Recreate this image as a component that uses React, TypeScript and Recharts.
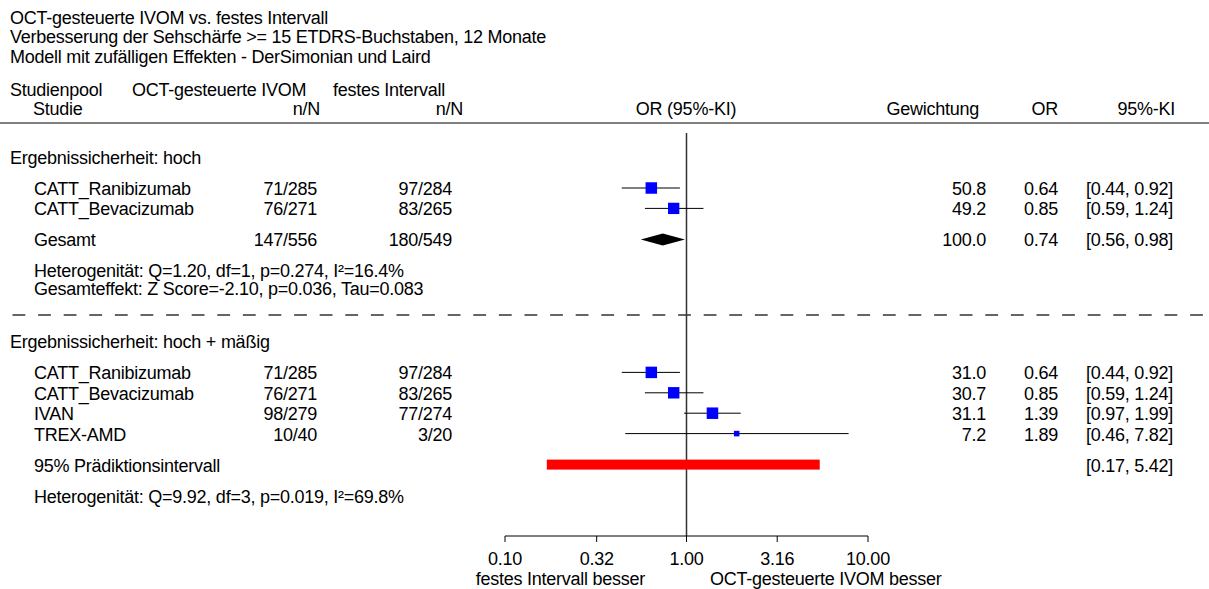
import React from 'react';
import { ComposedChart, Scatter, XAxis, YAxis, ReferenceLine } from 'recharts';

const W = 1209;
const H = 589;
const FONT = '"Liberation Sans", Arial, sans-serif';
const LS = -0.25;

const titleLines = [
  'OCT-gesteuerte IVOM vs. festes Intervall',
  'Verbesserung der Sehschärfe >= 15 ETDRS-Buchstaben, 12 Monate',
  'Modell mit zufälligen Effekten - DerSimonian und Laird',
];
const tickLabels = ['0.10', '0.32', '1.00', '3.16', '10.00'];
const tickValues = tickLabels.map(Number);
const sideLabels = ['festes Intervall besser', 'OCT-gesteuerte IVOM besser'];

// Gruppe 1
const g1Label = 'Ergebnissicherheit: hoch';
const g1Studies = ['CATT_Ranibizumab', 'CATT_Bevacizumab'];
const g1Treat = ['71/285', '76/271'];
const g1Ctrl = ['97/284', '83/265'];
const g1Weight = [50.8, 49.2];
const g1Or = [0.64, 0.85];
const g1Lo = [0.44, 0.59];
const g1Hi = [0.92, 1.24];
const g1Total = ['Gesamt', '147/556', '180/549'];
const g1TotalStats = [100.0, 0.74, 0.56, 0.98];
const g1Notes = [
  'Heterogenität: Q=1.20, df=1, p=0.274, I²=16.4%',
  'Gesamteffekt: Z Score=-2.10, p=0.036, Tau=0.083',
];

// Gruppe 2
const g2Label = 'Ergebnissicherheit: hoch + mäßig';
const g2Studies = ['CATT_Ranibizumab', 'CATT_Bevacizumab', 'IVAN', 'TREX-AMD'];
const g2Treat = ['71/285', '76/271', '98/279', '10/40'];
const g2Ctrl = ['97/284', '83/265', '77/274', '3/20'];
const g2Weight = [31.0, 30.7, 31.1, 7.2];
const g2Or = [0.64, 0.85, 1.39, 1.89];
const g2Lo = [0.44, 0.59, 0.97, 0.46];
const g2Hi = [0.92, 1.24, 1.99, 7.82];
const g2PredLabel = '95% Prädiktionsintervall';
const g2Pred = [0.17, 5.42];
const g2Notes = ['Heterogenität: Q=9.92, df=3, p=0.019, I²=69.8%'];

// Zeilenlayout (Pixel)
const PLOT_LEFT = 505;
const PLOT_RIGHT = 868;
const PLOT_TOP = 133;
const PLOT_BOTTOM = 536;
const Y0 = 157;
const ROW = 20.4;
const GAP = 31;
const NOTE = 18;
const SEP = 26.5;

function buildLayout() {
  let y = Y0;
  const g1Head = y;
  y += GAP;
  const g1Rows = g1Studies.map((_, i) => y + i * ROW);
  y += (g1Studies.length - 1) * ROW + GAP;
  const g1TotalY = y;
  y += GAP;
  const g1NoteY = g1Notes.map((_, i) => y + i * NOTE);
  y += (g1Notes.length - 1) * NOTE + SEP;
  const dashY = y;
  y += SEP;
  const g2Head = y;
  y += GAP;
  const g2Rows = g2Studies.map((_, i) => y + i * ROW);
  y += (g2Studies.length - 1) * ROW + GAP;
  const predY = y;
  y += GAP;
  const g2NoteY = g2Notes.map((_, i) => y + i * NOTE);
  return { g1Head, g1Rows, g1TotalY, g1NoteY, dashY, g2Head, g2Rows, predY, g2NoteY };
}

const L = buildLayout();

const f1 = (v: number) => v.toFixed(1);
const f2 = (v: number) => v.toFixed(2);
const ci = (lo: number, hi: number) => `[${f2(lo)}, ${f2(hi)}]`;

const COL = { grp: 10, study: 34, treat: 317, ctrl: 452, weight: 986, or: 1058, ci: 1173 };

function T({ x, y, anchor = 'start', children }: any) {
  return (
    <text
      x={x}
      y={y}
      textAnchor={anchor}
      fontSize={18}
      fill="#000"
      fontFamily={FONT}
      letterSpacing={LS}
    >
      {children}
    </text>
  );
}

const BASE = 7;

const squareData = (or: number[], rows: number[], weight: number[]) => {
  const max = Math.max(...weight);
  return or.map((v, i) => ({ x: v, y: rows[i], side: 11.5 * Math.sqrt(weight[i] / max) }));
};

const Square = (p: any) => {
  const s = p.payload.side;
  return <rect x={p.cx - s / 2} y={p.cy - s / 2} width={s} height={s} fill="#0000ff" />;
};

const NoShape = () => <g />;

const Diamond = (p: any) => {
  const [a, b, c] = p.points;
  return (
    <polygon
      points={`${a.x},${a.y} ${b.x},${b.y - 6} ${c.x},${c.y} ${b.x},${b.y + 6}`}
      fill="#000"
    />
  );
};

const PredBar = (p: any) => {
  const [a, b] = p.points;
  return <rect x={a.x} y={a.y - 5} width={b.x - a.x} height={10} fill="#ff0000" />;
};

export default function App() {
  const ciSeries = [
    ...g1Lo.map((lo, i) => [
      { x: lo, y: L.g1Rows[i] },
      { x: g1Hi[i], y: L.g1Rows[i] },
    ]),
    ...g2Lo.map((lo, i) => [
      { x: lo, y: L.g2Rows[i] },
      { x: g2Hi[i], y: L.g2Rows[i] },
    ]),
  ];

  const squares1 = squareData(g1Or, L.g1Rows, g1Weight);
  const squares2 = squareData(g2Or, L.g2Rows, g2Weight);
  const diamond = [
    { x: g1TotalStats[2], y: L.g1TotalY },
    { x: g1TotalStats[1], y: L.g1TotalY },
    { x: g1TotalStats[3], y: L.g1TotalY },
  ];
  const pred = [
    { x: g2Pred[0], y: L.predY },
    { x: g2Pred[1], y: L.predY },
  ];

  return (
    <div style={{ position: 'absolute', left: 0, top: 0, width: W, height: H, background: '#fff' }}>
      <ComposedChart
        width={W}
        height={H}
        margin={{ top: PLOT_TOP, right: W - PLOT_RIGHT, bottom: 0, left: PLOT_LEFT }}
      >
        <XAxis
          dataKey="x"
          type="number"
          scale="log"
          domain={[0.1, 10]}
          allowDataOverflow
          ticks={tickValues}
          tickFormatter={(v: number) => tickLabels[tickValues.indexOf(v)] ?? String(v)}
          height={H - PLOT_BOTTOM}
          tickSize={6}
          tickMargin={10}
          stroke="#000"
          tick={{ fontSize: 18, fill: '#000', fontFamily: FONT, letterSpacing: LS }}
          interval={0}
        />
        <YAxis
          dataKey="y"
          type="number"
          domain={[PLOT_TOP, PLOT_BOTTOM]}
          reversed
          hide
          allowDataOverflow
        />
        <ReferenceLine x={1} stroke="#333" strokeWidth={1.5} />
        {ciSeries.map((d, i) => (
          <Scatter
            key={'ci' + i}
            data={d}
            line={{ stroke: '#000', strokeWidth: 1 }}
            shape={NoShape}
            isAnimationActive={false}
          />
        ))}
        <Scatter data={squares1} shape={Square} isAnimationActive={false} />
        <Scatter data={squares2} shape={Square} isAnimationActive={false} />
        <Scatter data={diamond} line={Diamond} shape={NoShape} isAnimationActive={false} />
        <Scatter data={pred} line={PredBar} shape={NoShape} isAnimationActive={false} />
      </ComposedChart>

      <svg
        width={W}
        height={H}
        style={{ position: 'absolute', left: 0, top: 0, pointerEvents: 'none' }}
      >
        {titleLines.map((t, i) => (
          <T key={t} x={COL.grp} y={23.5 + i * 19.5}>{t}</T>
        ))}
        <T x={COL.grp} y={95.5}>Studienpool</T>
        <T x={132} y={95.5}>OCT-gesteuerte IVOM</T>
        <T x={333} y={95.5}>festes Intervall</T>
        <T x={33} y={114.5}>Studie</T>
        <T x={320} y={114.5} anchor="end">n/N</T>
        <T x={463} y={114.5} anchor="end">n/N</T>
        <T x={686} y={114.5} anchor="middle">OR (95%-KI)</T>
        <T x={979} y={114.5} anchor="end">Gewichtung</T>
        <T x={COL.or} y={114.5} anchor="end">OR</T>
        <T x={1175} y={114.5} anchor="end">95%-KI</T>
        <line x1={0} x2={W} y1={123} y2={123} stroke="#555" strokeWidth={1.5} />

        <T x={COL.grp} y={L.g1Head + BASE}>{g1Label}</T>
        {g1Studies.map((s, i) => (
          <g key={'g1' + i}>
            <T x={COL.study} y={L.g1Rows[i] + BASE}>{s}</T>
            <T x={COL.treat} y={L.g1Rows[i] + BASE} anchor="end">{g1Treat[i]}</T>
            <T x={COL.ctrl} y={L.g1Rows[i] + BASE} anchor="end">{g1Ctrl[i]}</T>
            <T x={COL.weight} y={L.g1Rows[i] + BASE} anchor="end">{f1(g1Weight[i])}</T>
            <T x={COL.or} y={L.g1Rows[i] + BASE} anchor="end">{f2(g1Or[i])}</T>
            <T x={COL.ci} y={L.g1Rows[i] + BASE} anchor="end">{ci(g1Lo[i], g1Hi[i])}</T>
          </g>
        ))}
        <T x={COL.study} y={L.g1TotalY + BASE}>{g1Total[0]}</T>
        <T x={COL.treat} y={L.g1TotalY + BASE} anchor="end">{g1Total[1]}</T>
        <T x={COL.ctrl} y={L.g1TotalY + BASE} anchor="end">{g1Total[2]}</T>
        <T x={COL.weight} y={L.g1TotalY + BASE} anchor="end">{f1(g1TotalStats[0])}</T>
        <T x={COL.or} y={L.g1TotalY + BASE} anchor="end">{f2(g1TotalStats[1])}</T>
        <T x={COL.ci} y={L.g1TotalY + BASE} anchor="end">{ci(g1TotalStats[2], g1TotalStats[3])}</T>
        {g1Notes.map((n, i) => (
          <T key={n} x={COL.study} y={L.g1NoteY[i] + BASE}>{n}</T>
        ))}

        <line x1={12.5} x2={W} y1={L.dashY} y2={L.dashY} stroke="#333" strokeWidth={1.5} strokeDasharray="12.8 12.8" />

        <T x={COL.grp} y={L.g2Head + BASE}>{g2Label}</T>
        {g2Studies.map((s, i) => (
          <g key={'g2' + i}>
            <T x={COL.study} y={L.g2Rows[i] + BASE}>{s}</T>
            <T x={COL.treat} y={L.g2Rows[i] + BASE} anchor="end">{g2Treat[i]}</T>
            <T x={COL.ctrl} y={L.g2Rows[i] + BASE} anchor="end">{g2Ctrl[i]}</T>
            <T x={COL.weight} y={L.g2Rows[i] + BASE} anchor="end">{f1(g2Weight[i])}</T>
            <T x={COL.or} y={L.g2Rows[i] + BASE} anchor="end">{f2(g2Or[i])}</T>
            <T x={COL.ci} y={L.g2Rows[i] + BASE} anchor="end">{ci(g2Lo[i], g2Hi[i])}</T>
          </g>
        ))}
        <T x={COL.study} y={L.predY + BASE}>{g2PredLabel}</T>
        <T x={COL.ci} y={L.predY + BASE} anchor="end">{ci(g2Pred[0], g2Pred[1])}</T>
        {g2Notes.map((n, i) => (
          <T key={n} x={COL.study} y={L.g2NoteY[i] + BASE}>{n}</T>
        ))}

        <T x={645} y={584.5} anchor="end">{sideLabels[0]}</T>
        <T x={710} y={584.5}>{sideLabels[1]}</T>
      </svg>
    </div>
  );
}
